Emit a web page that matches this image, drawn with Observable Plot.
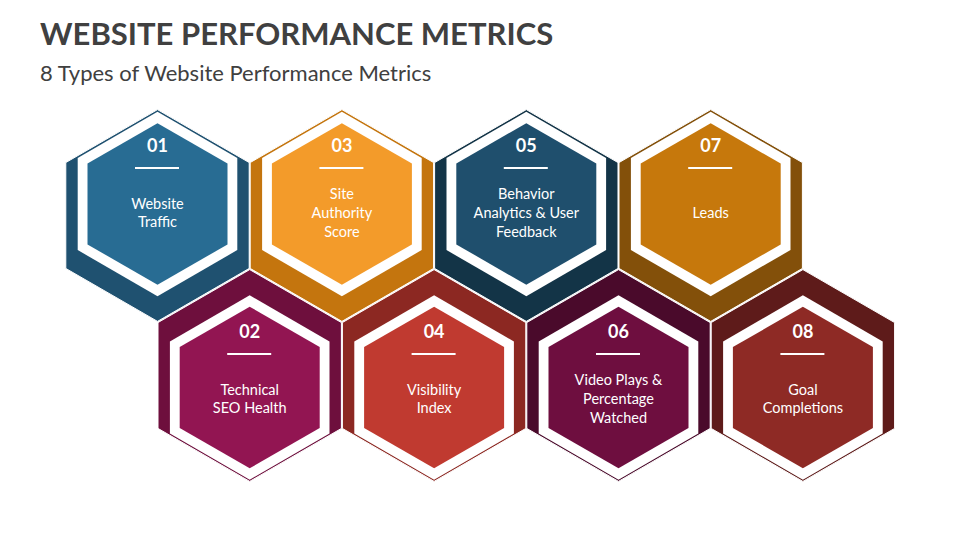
<!DOCTYPE html>
<html><head><meta charset="utf-8">
<script src="https://cdn.jsdelivr.net/npm/d3@7"></script>
<script src="https://cdn.jsdelivr.net/npm/@observablehq/plot@0.6"></script>
<style>
body{margin:0;background:#fff;width:960px;height:540px;overflow:hidden;font-family:Lato,"Noto Sans",sans-serif}
#head{position:relative;height:92px}
#title{position:absolute;left:40px;top:14px;font-size:31px;font-weight:700;color:#404040;white-space:nowrap}
#sub{position:absolute;left:40px;top:59px;font-size:22px;color:#404040;white-space:nowrap}
#chart svg{display:block}
</style></head><body>
<div id="head"><div id="title">WEBSITE PERFORMANCE METRICS</div><div id="sub">8 Types of Website Performance Metrics</div></div>
<div id="chart"></div>
<script>
const numbers = ["01","02","03","04","05","06","07","08"];
const labels = ["Website\nTraffic","Technical\nSEO Health","Site\nAuthority\nScore","Visibility\nIndex","Behavior\nAnalytics & User\nFeedback","Video Plays &\nPercentage\nWatched","Leads","Goal\nCompletions"];
const outerColors = ["#1F5170","#6E0F3D","#C4750E","#8C2822","#133447","#4A0A2B","#83500A","#5E1B1A"];
const innerColors = ["#286C93","#921552","#F39B2A","#C03A30","#1F4F6D","#6E0E3F","#C6780C","#8E2A25"];

const items = numbers.map((n, i) => {
  const row = i % 2;
  const cx = 157 + 92.2 * i;
  const cy = row ? 375 : 215;
  const icy = row ? cy + 12 : cy - 11.5;
  const ty = row ? icy + 2.5 : icy;
  return {n, label: labels[i], outer: outerColors[i], inner: innerColors[i], cx, cy, icy, ty};
});

const chart = Plot.plot({
  width: 960, height: 448,
  margin: 0,
  x: {domain: [0, 960], range: [0, 960], axis: null},
  y: {domain: [92, 540], range: [0, 448], axis: null},
  color: {type: "identity"},
  style: {fontFamily: "Lato, 'Noto Sans', sans-serif", background: "white"},
  marks: [
    Plot.dot(items, {x: "cx", y: "cy", r: 91.7, symbol: "hexagon", fill: "outer", stroke: "white", strokeWidth: 1}),
    Plot.dot(items, {x: "cx", y: "icy", r: 79.8, symbol: "hexagon", fill: "white"}),
    Plot.dot(items, {x: "cx", y: "icy", r: 70, symbol: "hexagon", fill: "inner"}),
    Plot.text(items, {x: "cx", y: d => d.ty - 58, text: "n", fill: "white", fontSize: 18, fontWeight: "bold"}),
    Plot.ruleY(items, {y: d => d.ty - 36, x1: d => d.cx - 22, x2: d => d.cx + 22, stroke: "white", strokeWidth: 2}),
    Plot.text(items, {x: "cx", y: d => d.ty + 8, text: "label", fill: "white", fontSize: 14.5, lineHeight: 1.3, lineAnchor: "middle"})
  ]
});
document.getElementById("chart").appendChild(chart);
</script>
</body></html>
